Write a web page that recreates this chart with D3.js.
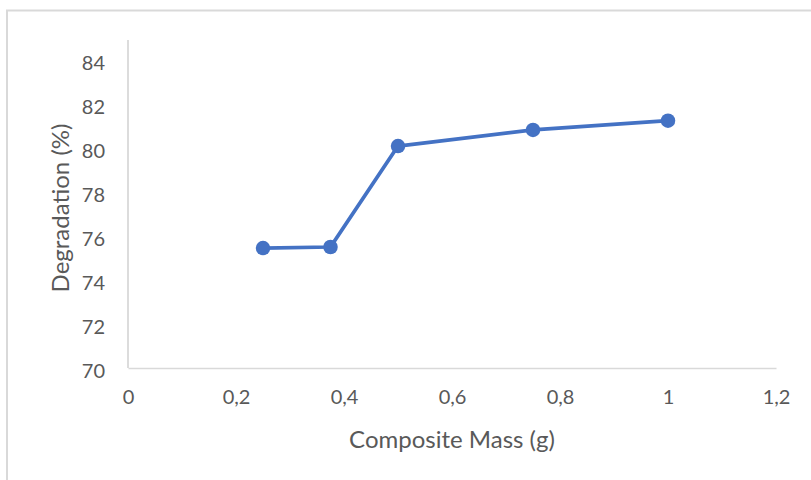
<!DOCTYPE html>
<html>
<head>
<meta charset="utf-8">
<script src="https://cdn.jsdelivr.net/npm/d3@7"></script>
<style>
  html, body { margin: 0; padding: 0; background: #fff; }
  svg { display: block; }
</style>
</head>
<body>
<svg id="chart" width="811" height="480"></svg>
<script>
// Degradation vs composite mass
const massValues = [0.25, 0.375, 0.5, 0.75, 1.0];
const degradationValues = [75.45, 75.5, 80.09, 80.82, 81.24];
const xTickValues = [0, 0.2, 0.4, 0.6, 0.8, 1.0, 1.2];
const yTickValues = [70, 72, 74, 76, 78, 80, 82, 84];

const points = massValues.map((m, i) => ({ x: m, y: degradationValues[i] }));

const svg = d3.select("#chart");
const font = "Lato, 'Open Sans', sans-serif";
const textColor = "#595959";

// chart frame
svg.append("rect")
  .attr("x", 7).attr("y", 10.5)
  .attr("width", 820).attr("height", 490)
  .attr("fill", "#fff")
  .attr("stroke", "#d9d9d9").attr("stroke-width", 2);

const x = d3.scaleLinear().domain([0, 1.2]).range([128, 776]);
const y = d3.scaleLinear().domain([70, 84]).range([368, 60]);
const yTop = 40;

// x axis
const xAxis = svg.append("g")
  .attr("transform", `translate(0,${y(70)})`)
  .call(d3.axisBottom(x).tickValues(xTickValues).tickSize(0).tickPadding(30)
    .tickFormat(d => String(d3.format("~g")(d)).replace(".", ",")));
xAxis.select(".domain").attr("stroke", "#d9d9d9").attr("stroke-width", 1.5);
xAxis.selectAll("text")
  .attr("fill", textColor).attr("font-family", font).attr("font-size", 20)
  .attr("dy", "0.3em");

// y axis
const yAxis = svg.append("g")
  .attr("transform", `translate(${x(0)},0)`)
  .call(d3.axisLeft(y).tickValues(yTickValues).tickSize(0).tickPadding(23));
yAxis.select(".domain")
  .attr("d", `M0,${y(70)}V${yTop}`)
  .attr("stroke", "#d0d0d0").attr("stroke-width", 1.5);
yAxis.selectAll("text")
  .attr("fill", textColor).attr("font-family", font).attr("font-size", 20)
  .attr("dy", "0.45em");

// axis titles
svg.append("text")
  .attr("x", 452).attr("y", 448)
  .attr("text-anchor", "middle")
  .attr("fill", textColor).attr("font-family", font).attr("font-size", 24)
  .text("Composite Mass (g)");

svg.append("text")
  .attr("transform", `translate(69,${208}) rotate(-90)`)
  .attr("text-anchor", "middle")
  .attr("fill", textColor).attr("font-family", font).attr("font-size", 24)
  .text("Degradation (%)");

// series line and markers
const line = d3.line().x(d => x(d.x)).y(d => y(d.y));
svg.append("path")
  .datum(points)
  .attr("d", line)
  .attr("fill", "none")
  .attr("stroke", "#4472c4")
  .attr("stroke-width", 3.75)
  .attr("stroke-linejoin", "round");

svg.selectAll("circle.pt")
  .data(points)
  .join("circle")
  .attr("class", "pt")
  .attr("cx", d => x(d.x))
  .attr("cy", d => y(d.y))
  .attr("r", 7.25)
  .attr("fill", "#4472c4");
</script>
</body>
</html>
